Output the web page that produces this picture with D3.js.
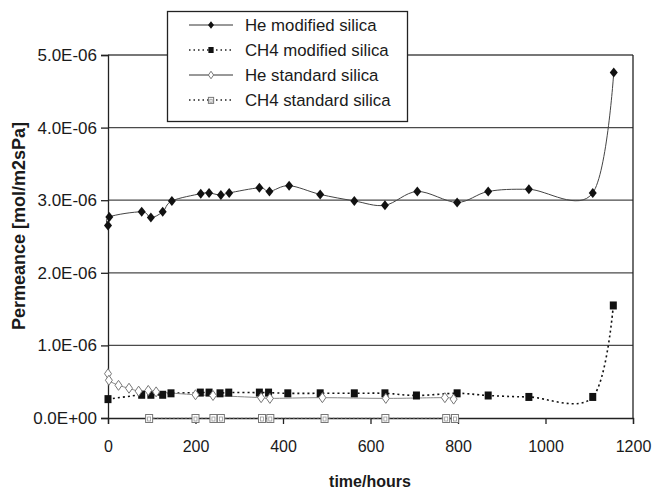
<!DOCTYPE html>
<html>
<head>
<meta charset="utf-8">
<script src="https://cdn.jsdelivr.net/npm/d3@7"></script>
<style>
  body { margin: 0; background: #fff; }
  text { font-family: "Liberation Sans", Arial, sans-serif; fill: #1a1a1a; }
</style>
</head>
<body>
<div id="chart"></div>
<script>
// data (permeance in mol/m2sPa, time in hours)
var heModTime = [0, 3, 77, 98, 125, 146, 212, 231, 258, 277, 346, 369, 414, 485, 563, 633, 707, 798, 869, 962, 1108, 1156];
var heModVal = [2.65e-6, 2.77e-6, 2.84e-6, 2.76e-6, 2.84e-6, 2.99e-6, 3.09e-6, 3.10e-6, 3.07e-6, 3.10e-6, 3.17e-6, 3.12e-6, 3.20e-6, 3.08e-6, 2.99e-6, 2.93e-6, 3.12e-6, 2.97e-6, 3.12e-6, 3.15e-6, 3.10e-6, 4.76e-6];

var ch4ModTime = [0, 77, 98, 125, 144, 211, 231, 256, 276, 346, 367, 411, 485, 563, 633, 705, 798, 869, 962, 1108, 1155];
var ch4ModVal = [0.26e-6, 0.32e-6, 0.32e-6, 0.32e-6, 0.34e-6, 0.35e-6, 0.35e-6, 0.34e-6, 0.35e-6, 0.35e-6, 0.35e-6, 0.34e-6, 0.34e-6, 0.34e-6, 0.34e-6, 0.31e-6, 0.34e-6, 0.31e-6, 0.29e-6, 0.29e-6, 1.55e-6];

var heStdTime = [0, 2, 24, 48, 70, 92, 110, 200, 240, 350, 370, 490, 635, 770, 790];
var heStdVal = [0.61e-6, 0.52e-6, 0.45e-6, 0.41e-6, 0.37e-6, 0.38e-6, 0.36e-6, 0.32e-6, 0.31e-6, 0.28e-6, 0.27e-6, 0.28e-6, 0.27e-6, 0.28e-6, 0.26e-6];

var ch4StdTime = [94, 200, 241, 258, 352, 371, 495, 634, 773, 793];
var ch4StdVal = [0, 0, 0, 0, 0, 0, 0, 0, 0, 0];

var seriesNames = ["He modified silica", "CH4 modified silica", "He standard silica", "CH4 standard silica"];
var xTicks = [0, 200, 400, 600, 800, 1000, 1200];
var yTicks = [0, 1e-6, 2e-6, 3e-6, 4e-6, 5e-6];

var w = 654, h = 489;
var pLeft = 108, pRight = 633, pTop = 55, pBottom = 418;

var x = d3.scaleLinear().domain([0, 1200]).range([pLeft, pRight]);
var y = d3.scaleLinear().domain([0, 5e-6]).range([pBottom, pTop]);

function fmtE(v) {
    if (v === 0) return "0.0E+00";
    var e = Math.floor(Math.log10(v) + 1e-9);
    var m = v / Math.pow(10, e);
    return m.toFixed(1) + "E" + (e < 0 ? "-" : "+") + String(Math.abs(e)).padStart(2, "0");
}

function pts(t, v) {
    return t.map(function (d, i) { return [d, v[i]]; });
}

var series = [
    { name: seriesNames[0], data: pts(heModTime, heModVal), stroke: "#444", dash: null, width: 1, marker: "dfill" },
    { name: seriesNames[1], data: pts(ch4ModTime, ch4ModVal), stroke: "#111", dash: "2,3", width: 1.6, marker: "sfill" },
    { name: seriesNames[2], data: pts(heStdTime, heStdVal), stroke: "#888", dash: null, width: 1, marker: "dopen" },
    { name: seriesNames[3], data: pts(ch4StdTime, ch4StdVal), stroke: "#999", dash: "1.5,2.5", width: 1.2, marker: "sopen" }
];

var svg = d3.select("#chart")
    .append("svg")
    .attr("width", w)
    .attr("height", h);

// gridlines
svg.selectAll("line.grid")
    .data(yTicks.filter(function (d) { return d > 0; }))
    .enter()
    .append("line")
    .attr("class", "grid")
    .attr("x1", pLeft)
    .attr("x2", pRight)
    .attr("y1", function (d) { return y(d); })
    .attr("y2", function (d) { return y(d); })
    .attr("stroke", "#4a4a4a")
    .attr("stroke-width", 1.3);

// right border
svg.append("line")
    .attr("x1", pRight).attr("x2", pRight)
    .attr("y1", pTop).attr("y2", pBottom)
    .attr("stroke", "#222").attr("stroke-width", 1.3);

// axes
var yAxis = d3.axisLeft(y).tickValues(yTicks).tickFormat(fmtE).tickSize(7).tickPadding(4);
var xAxis = d3.axisBottom(x).tickValues(xTicks).tickFormat(d3.format("d")).tickSize(6).tickPadding(17);

var gy = svg.append("g").attr("transform", "translate(" + pLeft + ",0)").call(yAxis);
var gx = svg.append("g").attr("transform", "translate(0," + pBottom + ")").call(xAxis);
[gx, gy].forEach(function (g) {
    g.select(".domain").attr("stroke", "#222").attr("stroke-width", 1.3);
    g.selectAll(".tick line").attr("stroke", "#222").attr("stroke-width", 1.3);
    g.selectAll(".tick text").attr("fill", "#1a1a1a")
        .attr("font-family", "Liberation Sans, Arial, sans-serif");
});
gy.selectAll(".tick text").attr("font-size", "17px");
gx.selectAll(".tick text").attr("font-size", "16px");

// axis titles
svg.append("text")
    .attr("x", 370)
    .attr("y", 487)
    .attr("text-anchor", "middle")
    .attr("font-size", "16px")
    .attr("font-weight", "bold")
    .text("time/hours");

svg.append("text")
    .attr("transform", "translate(25,226) rotate(-90)")
    .attr("text-anchor", "middle")
    .attr("font-size", "18px")
    .attr("font-weight", "bold")
    .text("Permeance [mol/m2sPa]");

// lines
var line = d3.line()
    .x(function (d) { return x(d[0]); })
    .y(function (d) { return y(d[1]); })
    .curve(d3.curveCatmullRom.alpha(0));

series.forEach(function (s) {
    svg.append("path")
        .datum(s.data)
        .attr("fill", "none")
        .attr("stroke", s.stroke)
        .attr("stroke-width", s.width)
        .attr("stroke-dasharray", s.dash)
        .attr("d", line);
});

function drawMarker(g, type, cx, cy, k) {
    if (type === "dfill") {
        g.append("path").attr("d", "M" + cx + "," + (cy - 5 * k) + "L" + (cx + 4 * k) + "," + cy + "L" + cx + "," + (cy + 5 * k) + "L" + (cx - 4 * k) + "," + cy + "Z")
            .attr("fill", "#111");
    } else if (type === "dopen") {
        g.append("path").attr("d", "M" + cx + "," + (cy - 5 * k) + "L" + (cx + 3.5 * k) + "," + cy + "L" + cx + "," + (cy + 5 * k) + "L" + (cx - 3.5 * k) + "," + cy + "Z")
            .attr("fill", "#fff").attr("stroke", "#777").attr("stroke-width", 1);
    } else if (type === "sfill") {
        g.append("rect").attr("x", cx - 3.5 * k).attr("y", cy - 4 * k).attr("width", 7 * k).attr("height", 8 * k)
            .attr("fill", "#111");
    } else {
        g.append("rect").attr("x", cx - 3.5 * k).attr("y", cy - 3.5 * k).attr("width", 7 * k).attr("height", 8 * k)
            .attr("fill", "#fff").attr("stroke", "#777").attr("stroke-width", 1);
        g.append("rect").attr("x", cx - 1.5 * k).attr("y", cy - 1 * k).attr("width", 3 * k).attr("height", 4 * k)
            .attr("fill", "none").attr("stroke", "#999").attr("stroke-width", 0.8);
    }
}

// markers
series.forEach(function (s) {
    var g = svg.append("g");
    s.data.forEach(function (d) {
        drawMarker(g, s.marker, x(d[0]), y(d[1]), 1);
    });
});

// legend
var lg = svg.append("g");
lg.append("rect")
    .attr("x", 167.5).attr("y", 11.5)
    .attr("width", 240).attr("height", 110)
    .attr("fill", "#fff")
    .attr("stroke", "#222").attr("stroke-width", 1.3);

series.forEach(function (s, i) {
    var ly = 25 + i * 25;
    lg.append("line")
        .attr("x1", 189).attr("x2", 233)
        .attr("y1", ly).attr("y2", ly)
        .attr("stroke", s.dash ? "#222" : "#333")
        .attr("stroke-width", s.dash ? 1.4 : 1)
        .attr("stroke-dasharray", s.dash ? "1.5,3" : null);
    drawMarker(lg, s.marker, 211, ly, 0.75);
    lg.append("text")
        .attr("x", 245).attr("y", ly + 6)
        .attr("font-size", "16.8px")
        .text(s.name);
});
</script>
</body>
</html>
